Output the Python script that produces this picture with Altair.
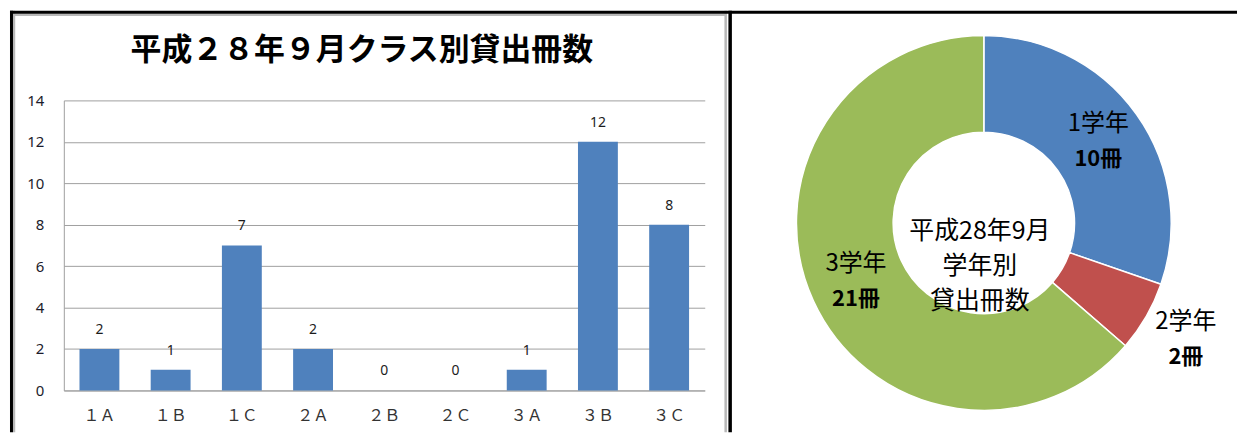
import altair as alt
import pandas as pd

# ---- data ----
classes = ["１Ａ", "１Ｂ", "１Ｃ", "２Ａ", "２Ｂ", "２Ｃ", "３Ａ", "３Ｂ", "３Ｃ"]
class_counts = [2, 1, 7, 2, 0, 0, 1, 12, 8]
y_ticks = [0, 2, 4, 6, 8, 10, 12, 14]

grades = ["1学年", "2学年", "3学年"]
grade_counts = [10, 2, 21]
grade_colors = ["#4F81BD", "#C0504D", "#9BBB59"]

bar_title = "平成２８年９月クラス別貸出冊数"
donut_title = "平成28年9月\n学年別\n貸出冊数"

bars_df = pd.DataFrame({"class": classes, "count": class_counts})
grade_df = pd.DataFrame({
    "grade": grades,
    "books": grade_counts,
    "books_label": [f"{v}冊" for v in grade_counts],
})
one = pd.DataFrame({"k": [0]})

JP = "Noto Sans CJK JP"
W, H = 643, 291
CX, CY = 923, 123          # donut centre, in plot-area pixels
GRID = "#a0a0a0"

# ---- bar chart ----
base = alt.Chart(bars_df).encode(
    x=alt.X("class:N", sort=classes,
            scale=alt.Scale(paddingInner=0.44, paddingOuter=0.22),
            axis=alt.Axis(title=None, labelAngle=0, domainColor=GRID, ticks=False,
                          labelPadding=17, labelFontSize=16, labelFont=JP,
                          labelColor="#333333")),
    y=alt.Y("count:Q", scale=alt.Scale(domain=[0, 14], nice=False),
            axis=alt.Axis(title=None, values=y_ticks, gridColor=GRID, domainColor=GRID,
                          ticks=False, labelPadding=20, labelFontSize=15,
                          labelFont="Noto Sans", labelColor="#1c1c2c")),
)
bars = base.mark_bar(color="#4F81BD")
bar_labels = base.mark_text(dy=-19, fontSize=14, baseline="middle",
                            font="Noto Sans", color="#1c1c1c").encode(text="count:Q")

title_mark = alt.Chart(pd.DataFrame({"label": [bar_title]})).mark_text(
    fontSize=31, fontWeight="bold", font=JP, color="black", baseline="middle"
).encode(text="label:N", x=alt.value(299), y=alt.value(-50))

# ---- donut ----
theta = alt.Theta("books:Q", stack=True)
order = alt.Order("grade:N")
arcs = alt.Chart(grade_df).mark_arc(
    outerRadius=188, innerRadius=91, stroke="white", strokeWidth=1.5
).encode(
    theta=theta, order=order,
    color=alt.Color("grade:N", scale=alt.Scale(domain=grades, range=grade_colors), legend=None),
    x=alt.value(CX), y=alt.value(CY),
)

lab_base = alt.Chart(grade_df).encode(
    theta=theta, order=order, x=alt.value(CX), y=alt.value(CY),
)
is_small = alt.datum.grade == "2学年"
is_big = alt.datum.grade != "2学年"

def labels(radius, test):
    name = lab_base.mark_text(radius=radius, dy=-17.5, fontSize=24, font=JP, color="black",
                              baseline="middle").encode(
        text=alt.condition(test, alt.Text("grade:N"), alt.value("")))
    val = lab_base.mark_text(radius=radius, dy=17.5, fontSize=22, font=JP, fontWeight="bold",
                             color="black", baseline="middle").encode(
        text=alt.condition(test, alt.Text("books_label:N"), alt.value("")))
    return [name, val]

donut_labels = labels(141, is_big) + labels(234, is_small)

centre = alt.Chart(pd.DataFrame({"label": [donut_title]})).mark_text(
    lineBreak="\n", fontSize=25, lineHeight=35, font=JP, color="black", baseline="middle"
).encode(text="label:N", x=alt.value(CX - 4), y=alt.value(CY + 8))

# ---- frame lines ----
def vrule(x, color, w):
    return alt.Chart(one).mark_rule(color=color, strokeWidth=w).encode(
        x=alt.value(x), y=alt.value(-90), y2=alt.value(333))

def hrule(y, x1, x2, color, w):
    return alt.Chart(one).mark_rule(color=color, strokeWidth=w).encode(
        y=alt.value(y), x=alt.value(x1), x2=alt.value(x2))

frame = [
    vrule(-50, "#b8b8b8", 2.5),
    hrule(-86, -51, 665, "#b8b8b8", 2.5),
    vrule(664, "#b8b8b8", 2.5),
    vrule(-52.5, "black", 3),
    hrule(-88.5, -54, 1177, "black", 3),
    vrule(668.5, "black", 3.5),
]

chart = alt.layer(
    *frame, bars, bar_labels, title_mark, arcs, *donut_labels, centre
).properties(width=W, height=H, padding=0).configure_view(strokeWidth=0)

chart.save("out.html", embed_options={"renderer": "svg", "actions": False})
